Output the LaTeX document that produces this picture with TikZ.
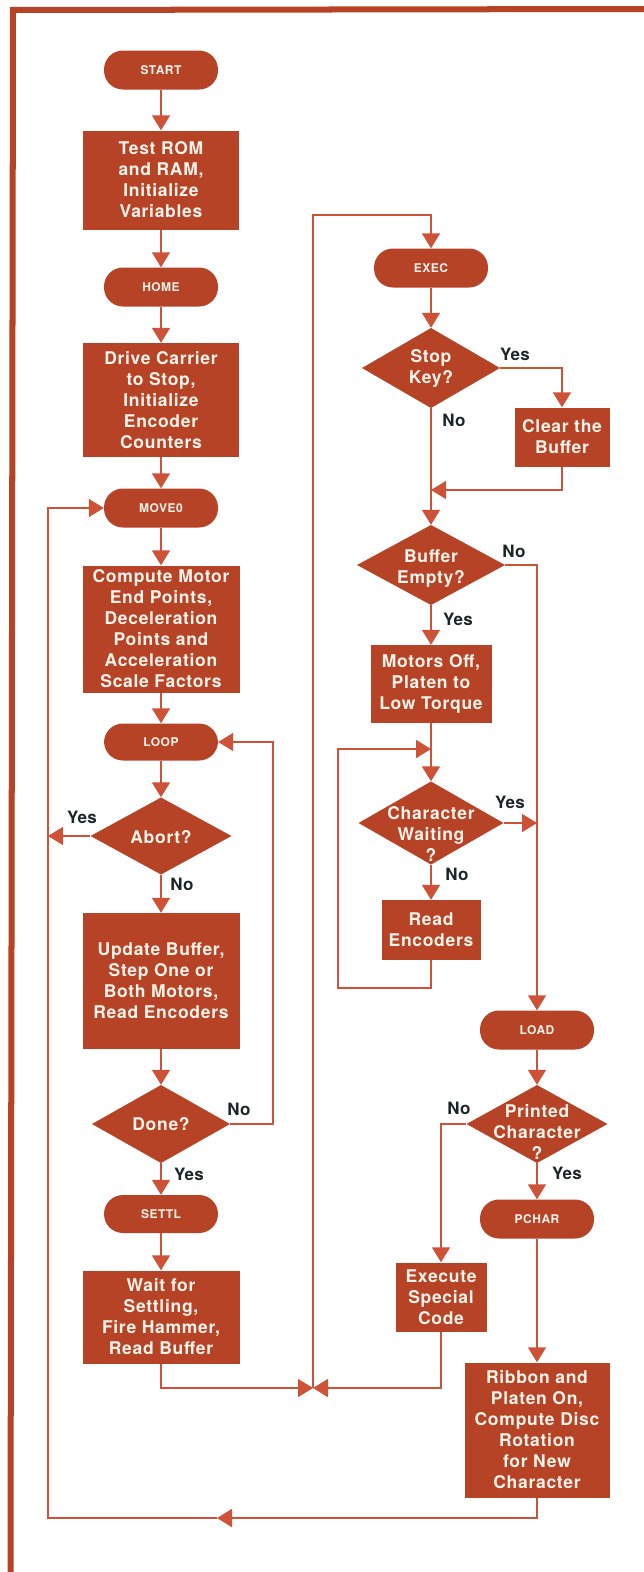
\documentclass[tikz,border=0pt]{standalone}
\usepackage{fontspec}
\newfontfamily\hv[LetterSpace=4]{TeX Gyre Heros}
\newfontfamily\hvl[LetterSpace=2]{TeX Gyre Heros}
\usetikzlibrary{arrows.meta}
\definecolor{brick}{RGB}{183,67,38}
\definecolor{wirec}{RGB}{205,82,55}
\definecolor{cream}{RGB}{252,244,234}
\definecolor{ink}{RGB}{28,38,38}
\begin{document}
\begin{tikzpicture}[x=1pt,y=-1pt,
  box/.style={rectangle, fill=brick, text=cream, align=center, inner sep=0pt,
    font=\hv\bfseries\fontsize{17.5}{21}\selectfont},
  term/.style={rectangle, rounded corners=19pt, fill=brick, text=cream, inner sep=0pt,
    minimum width=114pt, minimum height=39pt, font=\hv\bfseries\fontsize{12}{14}\selectfont},
  dec/.style={rectangle, inner sep=0pt, text=cream, align=center,
    font=\hv\bfseries\fontsize{17.5}{21}\selectfont,
    path picture={\fill[brick] (path picture bounding box.north) -- (path picture bounding box.east)
      -- (path picture bounding box.south) -- (path picture bounding box.west) -- cycle;}},
  conn/.style={draw=wirec, line width=1.6pt},
  flow/.style={conn, -{Triangle[width=18pt,length=15pt]}},
  lbl/.style={text=ink, inner sep=0pt, font=\hvl\bfseries\fontsize{17}{20}\selectfont}
]
\useasboundingbox (0,0) rectangle (644,1572);
\fill[white] (0,0) rectangle (644,1572);
% frame
\fill[brick] (10,7) -- (644,6) -- (644,12) -- (16,13) -- (13.5,1572) -- (7.5,1572) -- cycle;

% left column
\node[term] (start) at (161,70) {START};
\node[box, minimum width=156pt, minimum height=99pt] (test) at (161,180) {Test ROM\\and RAM,\\Initialize\\Variables};
\node[term] (home) at (161,287) {HOME};
\node[box, minimum width=156pt, minimum height=114pt] (drive) at (161,400) {Drive Carrier\\to Stop,\\Initialize\\Encoder\\Counters};
\node[term] (move0) at (161,508) {MOVE0};
\node[box, minimum width=157pt, minimum height=127pt] (compute) at (161,629) {Compute Motor\\End Points,\\Deceleration\\Points and\\Acceleration\\Scale Factors};
\node[term, minimum height=37pt] (loop) at (161,742) {LOOP};
\node[dec, minimum width=141pt, minimum height=77pt, text height=14pt, text depth=0pt] (abort) at (161,836) {Abort?};
\node[box, minimum width=157pt, minimum height=136pt] (update) at (161,981) {Update Buffer,\\Step One or\\Both Motors,\\Read Encoders};
\node[dec, minimum width=138pt, minimum height=78pt, text height=12pt, text depth=0pt] (done) at (161,1124) {Done?};
\node[term, minimum height=38pt] (settl) at (161,1214) {SETTL};
\node[box, minimum width=157pt, minimum height=93pt] (wait) at (161,1317) {Wait for\\Settling,\\Fire Hammer,\\Read Buffer};

% right column
\node[term] (exec) at (431,268) {EXEC};
\node[dec, minimum width=138pt, minimum height=80pt, text height=30pt, text depth=0pt] (stopkey) at (431,368) {Stop\\Key?};
\node[box, minimum width=95pt, minimum height=59pt] (clear) at (562,437) {Clear the\\Buffer};
\node[dec, minimum width=148pt, minimum height=80pt, text height=36pt, text depth=0pt] (buffer) at (431,565) {Buffer\\Empty?};
\node[box, minimum width=121pt, minimum height=78pt] (motors) at (431,684) {Motors Off,\\Platen to\\Low Torque};
\node[dec, minimum width=145pt, minimum height=83pt, text height=76pt, text depth=0pt] (charw) at (431,823) {Character\\Waiting\\?};
\node[box, minimum width=99pt, minimum height=60pt] (readenc) at (431,930) {Read\\Encoders};
\node[term] (load) at (537,1030) {LOAD};
\node[dec, minimum width=141pt, minimum height=78pt, text height=70pt, text depth=0pt] (printed) at (537,1124) {Printed\\Character\\?};
\node[term] (pchar) at (537,1219) {PCHAR};
\node[box, minimum width=91pt, minimum height=69pt] (execsp) at (441,1297) {Execute\\Special\\Code};
\node[box, minimum width=145pt, minimum height=135pt] (ribbon) at (537,1430) {Ribbon and\\Platen On,\\Compute Disc\\Rotation\\for New\\Character};

% helper coordinates
\coordinate (xL) at (48,0);
\coordinate (xD) at (273,0);
\coordinate (xM) at (313,0);
\coordinate (xC) at (338,0);
\coordinate (xR) at (537,0);
\coordinate (yT) at (0,215);
\coordinate (yC) at (0,490);
\coordinate (yL) at (0,749);
\coordinate (yR) at (0,988);
\coordinate (yJ) at (0,1388);
\coordinate (yB) at (0,1518);
\coordinate (midA) at (217,1518);

% left column flow
\draw[flow] (start) -- (test);
\draw[flow] (test) -- (home);
\draw[flow] (home) -- (drive);
\draw[flow] (drive) -- (move0);
\draw[flow] (move0) -- (compute);
\draw[flow] (compute) -- (loop);
\draw[flow] (loop) -- (abort);
\draw[flow] (abort) -- (update);
\draw[flow] (update) -- (done);
\draw[flow] (done) -- (settl);
\draw[flow] (settl) -- (wait);
\draw[flow] (abort.west) -- (abort.west -| xL);
\draw[flow] (done.east) -- (done.east -| xD) -- (loop.east -| xD) -- (loop.east);
\draw[flow] (wait.south) -- (wait.south |- yJ) -- (xM |- yJ);
\draw[flow] (ribbon.south) -- (ribbon.south |- yB) -- (midA);
\draw[flow] (midA) -- (xL |- yB) -- (xL |- move0.west) -- (move0.west);

% right column flow
\draw[flow] (xM |- yJ) -- (xM |- yT) -- (exec.north |- yT) -- (exec.north);
\draw[flow] (exec) -- (stopkey);
\draw[flow] (stopkey.east) -| (clear.north);
\draw[flow] (clear.south) -- (clear.south |- yC) -- (stopkey.south |- yC);
\draw[flow] (stopkey) -- (buffer);
\draw[flow] (buffer.east) -- (buffer.east -| xR) -- (load.north);
\draw[flow] (buffer) -- (motors);
\draw[flow] (motors) -- (charw);
\draw[flow] (charw) -- (readenc);
\draw[flow] (charw.east) -- (charw.east -| xR);
\draw[flow] (readenc.south) -- (readenc.south |- yR) -- (xC |- yR) -- (xC |- yL) -- (motors.south |- yL);
\draw[flow] (load) -- (printed);
\draw[flow] (printed) -- (pchar);
\draw[flow] (printed.west) -| (execsp.north);
\draw[flow] (pchar) -- (ribbon);
\draw[flow] (execsp.south) -- (execsp.south |- yJ) -- (xM |- yJ);

% labels
\node[lbl] (l1) at (82,817) {Yes};
\node[lbl] (l2) at (182,884) {No};
\node[lbl] (l3) at (239,1109) {No};
\node[lbl] (l4) at (189,1174) {Yes};
\node[lbl] (l5) at (515,354) {Yes};
\node[lbl] (l6) at (454,420) {No};
\node[lbl] (l7) at (514,551) {No};
\node[lbl] (l8) at (458,619) {Yes};
\node[lbl] (l9) at (510,802) {Yes};
\node[lbl] (l10) at (457,874) {No};
\node[lbl] (l11) at (459,1108) {No};
\node[lbl] (l12) at (567,1173) {Yes};
\end{tikzpicture}
\end{document}
